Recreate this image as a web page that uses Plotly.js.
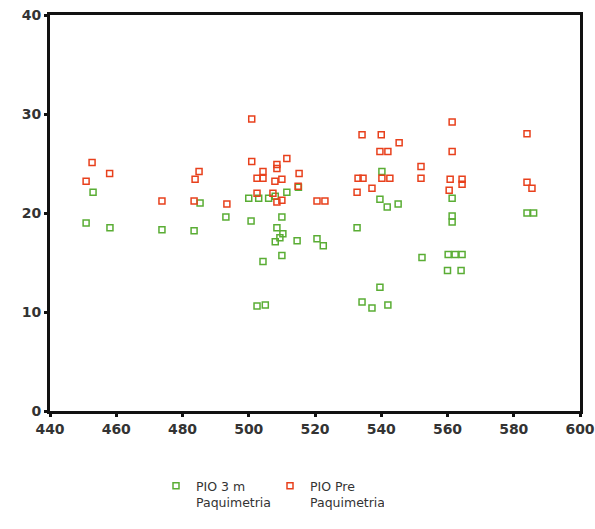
<!DOCTYPE html>
<html>
<head>
<meta charset="utf-8">
<script src="https://cdn.plot.ly/plotly-3.0.1.min.js"></script>
<style>html,body{margin:0;padding:0;background:#fff;}#chart{width:595px;height:529px;}</style>
</head>
<body>
<div id="chart"></div>
<script>
// PIO 3 m Paquimetria (green)
const greenX = [453, 450.9, 458.1, 473.8, 483.5, 485.3, 493.1, 500.7, 500, 503, 506, 508, 511.5, 510,
  508.5, 510.3, 509.4, 508, 510, 514.6, 520.6, 522.5, 504.3, 502.5, 505, 515,
  540.2, 539.6, 541.8, 545.1, 532.7, 552.3, 539.6, 534.2, 537.2, 542,
  561.4, 561.4, 561.4, 560.2, 562.3, 564.4, 560, 564.1, 584, 586];
const greenY = [22.1, 19.0, 18.5, 18.3, 18.2, 21.0, 19.6, 19.2, 21.5, 21.5, 21.5, 21.7, 22.1, 19.6,
  18.5, 17.9, 17.5, 17.1, 15.7, 17.2, 17.4, 16.7, 15.1, 10.6, 10.7, 22.6,
  24.2, 21.4, 20.6, 20.9, 18.5, 15.5, 12.5, 11.0, 10.4, 10.7,
  21.5, 19.7, 19.1, 15.8, 15.8, 15.8, 14.2, 14.2, 20.0, 20.0];

// PIO Pre Paquimetria (red)
const redX = [450.9, 452.7, 458, 473.8, 483.5, 483.8, 485, 493.4,
  500.9, 500.9, 504.3, 508.5, 508.5, 511.5, 502.5, 504.3, 507.9, 510, 515.2, 514.9,
  502.5, 507.3, 508.5, 510, 520.6, 523,
  534.2, 540, 545.4, 539.6, 542, 552, 552, 533, 534.5, 540.2, 542.6, 537.2, 532.7,
  561.4, 561.4, 560.8, 564.4, 564.4, 560.5, 584, 584, 585.5];
const redY = [23.2, 25.1, 24.0, 21.2, 21.2, 23.4, 24.2, 20.9,
  29.5, 25.2, 24.2, 24.9, 24.5, 25.5, 23.5, 23.5, 23.2, 23.4, 24.0, 22.7,
  22.0, 22.0, 21.1, 21.3, 21.2, 21.2,
  27.9, 27.9, 27.1, 26.2, 26.2, 24.7, 23.5, 23.5, 23.5, 23.5, 23.5, 22.5, 22.1,
  29.2, 26.2, 23.4, 23.4, 22.9, 22.3, 28.0, 23.1, 22.5];

const seriesNames = ['PIO 3 m<br>Paquimetria', 'PIO Pre<br>Paquimetria'];

const traces = [
  {x: greenX, y: greenY, name: seriesNames[0], type: 'scatter', mode: 'markers',
   marker: {symbol: 'square-open', size: 6, color: '#5aad34', line: {width: 1.5}}},
  {x: redX, y: redY, name: seriesNames[1], type: 'scatter', mode: 'markers',
   marker: {symbol: 'square-open', size: 6, color: '#e8401c', line: {width: 1.5}}}
];

const axisCommon = {
  showline: true, linecolor: '#111', linewidth: 3, mirror: true,
  showgrid: false, zeroline: false,
  ticks: 'outside', ticklen: 3, tickwidth: 3, tickcolor: '#111',
  tickfont: {family: 'DejaVu Sans', size: 14, color: '#333', weight: 'bold'}
};

const layout = {
  width: 595, height: 529,
  margin: {l: 50, r: 15, t: 15, b: 116},
  paper_bgcolor: '#fff', plot_bgcolor: '#fff',
  showlegend: true,
  xaxis: Object.assign({}, axisCommon, {range: [440, 600], dtick: 20, tick0: 440}),
  yaxis: Object.assign({}, axisCommon, {range: [0, 40], dtick: 10, tick0: 0}),
  legend: {orientation: 'h', x: 0.2, xanchor: 'left', y: -0.152, yanchor: 'top',
    valign: 'top', font: {family: 'DejaVu Sans', size: 12.5, color: '#333'},
    entrywidth: 69, itemsizing: 'trace'},
  font: {family: 'DejaVu Sans'}
};

Plotly.newPlot('chart', traces, layout, {displayModeBar: false, staticPlot: true});
</script>
</body>
</html>
